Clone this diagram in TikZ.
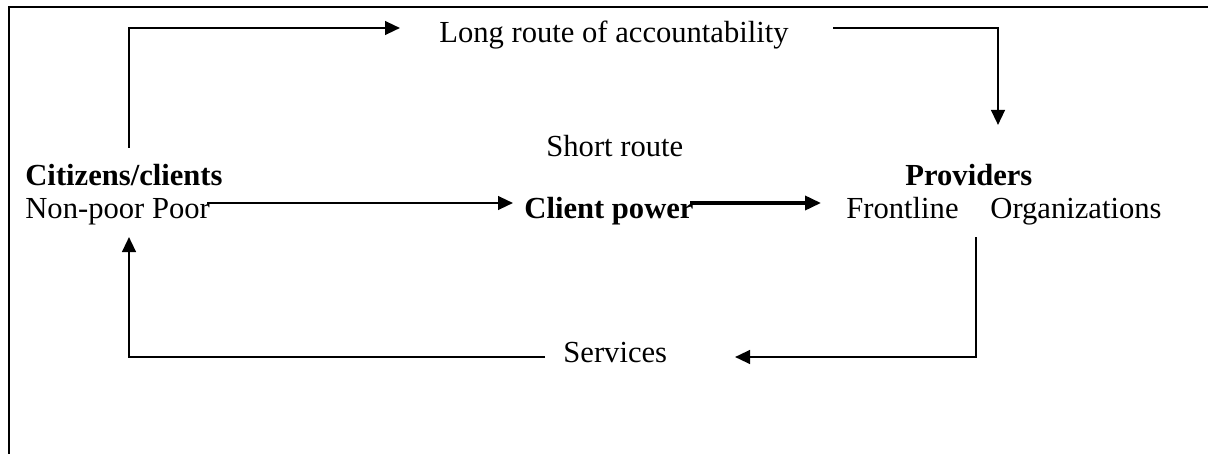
\documentclass[tikz,border=0pt]{standalone}
\usepackage{fontspec}
\setmainfont{Liberation Serif}
\usetikzlibrary{arrows.meta}
\begin{document}
\begin{tikzpicture}[x=0.5pt,y=-0.5pt,
  txt/.style={inner sep=0pt, anchor=base west, font=\fontsize{15.3}{18}\selectfont},
  btxt/.style={txt, font=\fontsize{15.3}{18}\selectfont\bfseries},
  conn/.style={line width=1.2pt, -{Triangle[length=7.5pt,width=6.8pt]}},
  thickconn/.style={line width=1.8pt, -{Triangle[length=8pt,width=7pt]}}]
\useasboundingbox (0,0) rectangle (1208,454);
\draw[line width=1.1pt] (9,454) -- (9,7) -- (1208,7);
% texts
\node[txt] (long) at (439,43) {Long route of accountability};
\node[txt] (short) at (546,157) {Short route};
\node[btxt] (cit) at (25,185) {Citizens/clients};
\node[txt] (np) at (25,219) {Non-poor Poor};
\node[btxt] (cp) at (524,219) {Client power};
\node[btxt] (prov) at (905,185) {Providers};
\node[txt] (front) at (846,219) {Frontline};
\node[txt] (org) at (990,219) {Organizations};
\node[txt] (serv) at (563,362) {Services};
% coordinates
\coordinate (l1) at (129,148);
\coordinate (l2) at (129,28);
\coordinate (l3) at (400,28);
\coordinate (r1) at (833,28);
\coordinate (r2) at (998,28);
\coordinate (r3) at (998,125);
\coordinate (s1) at (207,203);
\coordinate (s2) at (513,203);
\coordinate (t1) at (690,203);
\coordinate (t2) at (821,203);
\coordinate (d1) at (976,237);
\coordinate (d2) at (976,357);
\coordinate (d3) at (735,357);
\coordinate (u1) at (545,357);
\coordinate (u2) at (129,357);
\coordinate (u3) at (129,237);
% connectors
\draw[conn] (l1) -- (l2) -- (l3);
\draw[conn] (r1) -- (r2) -- (r3);
\draw[conn] (s1) -- (s2);
\draw[thickconn] (t1) -- (t2);
\draw[conn] (d1) -- (d2) -- (d3);
\draw[conn] (u1) -- (u2) -- (u3);
\end{tikzpicture}
\end{document}
